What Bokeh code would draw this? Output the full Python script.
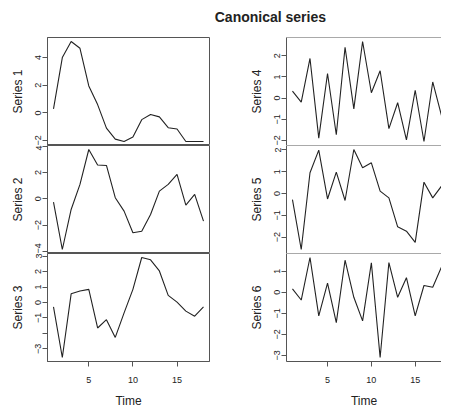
from bokeh.plotting import figure
from bokeh.layouts import column, row
from bokeh.models import Range1d, FixedTicker, Span
from bokeh.core.properties import value
from bokeh.embed import file_html
from bokeh.resources import INLINE

# ---- data ----
time = list(range(1, 19))
series1 = [0.29, 4.0, 5.16, 4.67, 1.95, 0.6, -1.1, -1.9, -2.07, -1.75, -0.49, -0.12, -0.29, -1.07, -1.17, -2.07, -2.07, -2.07]
series2 = [-0.25, -3.85, -0.81, 1.09, 3.74, 2.56, 2.53, 0.08, -0.94, -2.58, -2.46, -1.19, 0.58, 1.09, 1.85, -0.48, 0.33, -1.7]
series3 = [-0.28, -3.56, 0.56, 0.74, 0.85, -1.65, -1.11, -2.26, -0.67, 0.85, 2.91, 2.76, 2.04, 0.46, 0.02, -0.56, -0.89, -0.28]
series4 = [0.33, -0.19, 1.87, -1.89, 1.16, -1.73, 2.40, -0.51, 2.67, 0.25, 1.29, -1.44, -0.22, -1.97, 0.37, -2.05, 0.76, -0.83]
series5 = [-0.28, -2.57, 0.95, 1.99, -0.25, 0.98, -0.32, 2.02, 1.18, 1.41, 0.11, -0.2, -1.53, -1.73, -2.24, 0.52, -0.2, 0.34]
series6 = [0.16, -0.37, 1.65, -1.12, 0.43, -1.44, 1.52, -0.24, -1.36, 1.40, -3.10, 1.41, -0.24, 0.69, -1.12, 0.32, 0.24, 1.2]

series_names = ["Series 1", "Series 2", "Series 3", "Series 4", "Series 5", "Series 6"]
series_values = [series1, series2, series3, series4, series5, series6]
y_ticks = [
    [-2, 0, 2, 4],
    [-4, -2, 0, 2, 4],
    [-3, -2, -1, 0, 1, 2, 3],
    [-2, -1, 0, 1, 2],
    [-2, -1, 0, 1, 2],
    [-3, -2, -1, 0, 1],
]
y_hidden_labels = [[], [], [-2], [], [], []]
x_ticks = [5, 10, 15]
title_text = "Canonical series"
x_label = "Time"

FONT = "Liberation Sans"
FRAME = "#555555"
INK = "#222222"


def pad_range(vals, frac=0.04):
    lo, hi = min(vals), max(vals)
    d = (hi - lo) * frac
    return lo - d, hi + d


x_lo, x_hi = pad_range(time)


def make_panel(idx, col, pos):
    vals = series_values[idx]
    y0, y1 = pad_range(vals)
    if col == 0:
        xr = Range1d(x_lo, x_hi)
        fw, mbl, mbr = 162, 47, 1
    else:
        xr = Range1d(x_lo, time[-1])
        fw, mbl, mbr = 155, 76, 0
    bottom = pos == 2
    p = figure(
        output_backend="svg", toolbar_location=None,
        x_range=xr, y_range=Range1d(y0, y1),
        frame_width=fw, frame_height=108,
        min_border_left=mbl, min_border_right=mbr,
        min_border_top=0, min_border_bottom=(41 if bottom else 0),
        x_axis_location=("below" if bottom else None),
        background_fill_color="white", border_fill_color="white",
    )
    p.grid.visible = False
    if col == 0:
        p.outline_line_color = FRAME
        p.outline_line_width = 1
    else:
        p.outline_line_color = None
        p.add_layout(Span(location=y1, dimension="width", line_color=FRAME, line_width=1))
        p.add_layout(Span(location=y0, dimension="width", line_color=FRAME, line_width=1))

    ya = p.yaxis[0]
    ya.ticker = FixedTicker(ticks=y_ticks[idx])
    ya.major_label_overrides = {t: "" for t in y_hidden_labels[idx]}
    ya.major_label_orientation = "vertical"
    ya.major_label_text_font = FONT
    ya.major_label_text_font_size = "9px"
    ya.major_label_text_color = INK
    ya.major_label_standoff = 1
    ya.major_tick_out = 5
    ya.major_tick_in = 0
    ya.major_tick_line_color = FRAME
    ya.minor_tick_line_color = None
    ya.axis_line_color = FRAME
    ya.axis_label = series_names[idx]
    ya.axis_label_text_font = FONT
    ya.axis_label_text_font_size = "12px"
    ya.axis_label_text_font_style = "normal"
    ya.axis_label_text_color = INK
    ya.axis_label_standoff = 8

    if bottom:
        xa = p.xaxis[0]
        xa.ticker = FixedTicker(ticks=x_ticks)
        xa.major_label_text_font = FONT
        xa.major_label_text_font_size = "9px"
        xa.major_label_text_color = INK
        xa.major_label_standoff = 10
        xa.major_tick_out = 5
        xa.major_tick_in = 0
        xa.major_tick_line_color = FRAME
        xa.minor_tick_line_color = None
        xa.axis_line_color = FRAME
        xa.axis_label = x_label
        xa.axis_label_text_font = FONT
        xa.axis_label_text_font_size = "12px"
        xa.axis_label_text_font_style = "normal"
        xa.axis_label_text_color = INK
        xa.axis_label_standoff = 8

    p.line(time, vals, line_color=INK, line_width=1.1)
    return p


left = column([make_panel(i, 0, i) for i in range(3)], spacing=0)
right = column([make_panel(i + 3, 1, i) for i in range(3)], spacing=0)

tfig = figure(
    output_backend="svg", toolbar_location=None,
    width=441, height=37, x_range=Range1d(0, 1), y_range=Range1d(0, 1),
    min_border=0, x_axis_location=None, y_axis_location=None,
    outline_line_color=None,
)
tfig.grid.visible = False
tfig.text(x=[0.612], y=[0.56], text=[title_text], text_font=value(FONT),
          text_font_size="14px", text_font_style="bold", text_color=INK,
          text_align="center", text_baseline="middle")

layout = column(tfig, row(left, right, spacing=0), spacing=0)

open("out.html", "w").write(file_html(layout, INLINE))
